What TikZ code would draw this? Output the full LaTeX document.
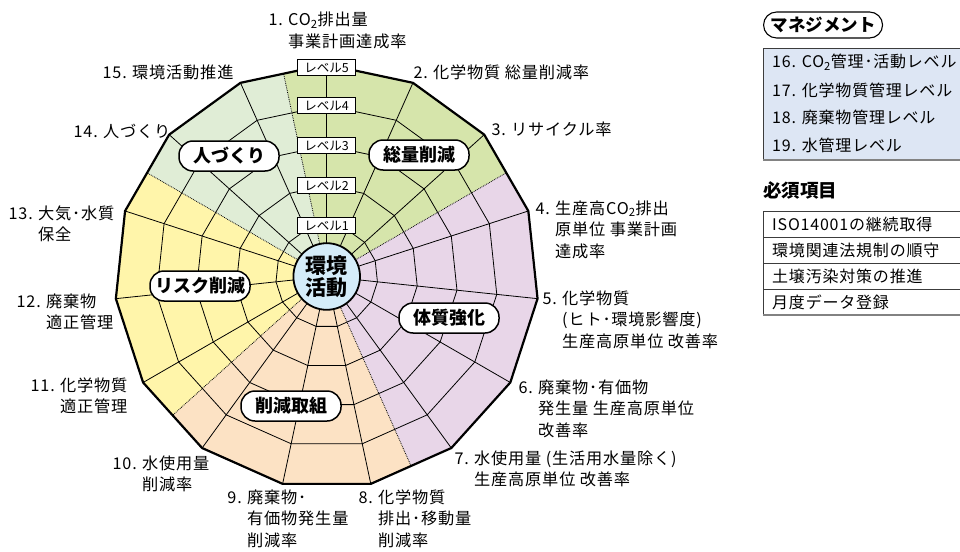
\documentclass[tikz,border=0pt]{standalone}
\usepackage{fontspec}
\setmainfont{Noto Sans CJK JP}
\newfontfamily\lblfont[LetterSpace=5]{Noto Sans CJK JP}
\definecolor{cgreen}{RGB}{214,229,171}
\definecolor{clgreen}{RGB}{224,237,214}
\definecolor{cyellow}{RGB}{255,245,170}
\definecolor{cpink}{RGB}{232,214,232}
\definecolor{corange}{RGB}{252,226,196}
\definecolor{cblue}{RGB}{212,236,249}
\definecolor{cmgmt}{RGB}{221,230,244}
\definecolor{cedge}{RGB}{60,60,60}
\definecolor{cshadow}{RGB}{130,130,130}
\newcommand\itemlabel[5]{%
  \node[lbl,anchor=base east] (#1n) at (#2-5,-#3) {#4};
  \node[lbl,anchor=base west] (#1t) at (#2,-#3) {\begin{tabular}[t]{@{}l@{}}#5\end{tabular}};}
\begin{document}
\begin{tikzpicture}[x=1pt,y=1pt,
  gridline/.style={line width=0.8pt, black},
  bound/.style={line width=0.8pt, densely dotted},
  lvl/.style={draw, line width=0.6pt, fill=white, minimum width=58pt, minimum height=16pt, inner sep=0pt, font=\fontsize{12.5}{14}\selectfont},
  pill/.style={draw, line width=1.5pt, fill=white, rounded corners=14pt, minimum width=100pt, minimum height=30pt, inner sep=0pt, font=\fontsize{18}{20}\bfseries},
  lbl/.style={inner sep=0pt, font=\lblfont\fontsize{16.2}{21.5}\selectfont},
  rt/.style={inner sep=0pt, anchor=west, font=\lblfont\fontsize{16}{18}\selectfont}]
\useasboundingbox (0,0) rectangle (960,-551);
\fill[white] (0,0) rectangle (960,-551);
\coordinate (C) at (326.7,-276.5);
\def\R{212}
\def\Rm{207.36}
\begin{scope}[shift={(C)}]
  % sector fills
  \fill[cgreen] (0,0) -- (102:\Rm) -- (90:\R) -- (66:\R) -- (42:\R) -- (30:\Rm) -- cycle;
  \fill[cpink] (0,0) -- (30:\Rm) -- (18:\R) -- (-6:\R) -- (-30:\R) -- (-54:\R) -- (-66:\Rm) -- cycle;
  \fill[corange] (0,0) -- (-66:\Rm) -- (-78:\R) -- (-102:\R) -- (-126:\R) -- (-138:\Rm) -- cycle;
  \fill[cyellow] (0,0) -- (-138:\Rm) -- (-150:\R) -- (-174:\R) -- (-198:\R) -- (-210:\Rm) -- cycle;
  \fill[clgreen] (0,0) -- (150:\Rm) -- (138:\R) -- (114:\R) -- (102:\Rm) -- cycle;
  % rings
  \foreach \r in {51,91,131,171} {
    \draw[gridline] (90:\r) \foreach \a in {66,42,...,-246} { -- (\a:\r) } -- cycle;
  }
  % spokes
  \foreach \a in {90,66,...,-246} { \draw[gridline] (0,0) -- (\a:\R); }
  % sector boundaries
  \foreach \a in {102,30,-66,-138,150} { \draw[bound] (\a:33) -- (\a:\Rm); }
  % outer polygon
  \draw[line width=2.2pt, line join=miter] (90:\R) \foreach \a in {66,42,...,-246} { -- (\a:\R) } -- cycle;
  % level labels
  \node[lvl] (lv1) at (0,51) {レベル1};
  \node[lvl] (lv2) at (0,91) {レベル2};
  \node[lvl] (lv3) at (0,131) {レベル3};
  \node[lvl] (lv4) at (0,171) {レベル4};
  \node[lvl] (lv5) at (0,209) {レベル5};
\end{scope}
% centre
\node[circle, draw, line width=1.8pt, fill=cblue, minimum size=66.6pt, inner sep=0pt, align=center, font=\fontsize{21}{22.5}\bfseries] (core) at (C) {環境\\活動};
% category pills
\node[pill] (p1) at (419,-155) {総量削減};
\node[pill] (p2) at (229,-156) {人づくり};
\node[pill] (p3) at (200,-286) {リスク削減};
\node[pill] (p4) at (449,-318) {体質強化};
\node[pill] (p5) at (291,-406) {削減取組};
% item labels
\itemlabel{l1}{288}{26}{1.}{CO\textsubscript{2}排出量\\事業計画達成率}
\itemlabel{l2}{433}{78}{2.}{化学物質 総量削減率}
\itemlabel{l3}{511}{135}{3.}{リサイクル率}
\itemlabel{l4}{555}{214}{4.}{生産高CO\textsubscript{2}排出\\原単位 事業計画\\達成率}
\itemlabel{l5}{562}{304}{5.}{化学物質\\(ヒト･環境影響度)\\生産高原単位 改善率}
\itemlabel{l6}{538}{393}{6.}{廃棄物･有価物\\発生量 生産高原単位\\改善率}
\itemlabel{l7}{474}{464}{7.}{水使用量 (生活用水量除く)\\生産高原単位 改善率}
\itemlabel{l8}{378}{503}{8.}{化学物質\\排出･移動量\\削減率}
\itemlabel{l9}{247}{503}{9.}{廃棄物･\\有価物発生量\\削減率}
\itemlabel{l10}{142}{469}{10.}{水使用量\\削減率}
\itemlabel{l11}{60}{391}{11.}{化学物質\\適正管理}
\itemlabel{l12}{46}{307}{12.}{廃棄物\\適正管理}
\itemlabel{l13}{38}{219}{13.}{大気･水質\\保全}
\itemlabel{l14}{103}{137}{14.}{人づくり}
\itemlabel{l15}{132}{78}{15.}{環境活動推進}
% right panel: management
\node[draw, line width=1.1pt, rounded corners=13pt, minimum height=26pt, inner xsep=7pt, inner ysep=0pt, anchor=west, font=\fontsize{17.5}{20}\bfseries] (mgmt) at (763,-25) {マネジメント};
\draw[fill=cmgmt, draw=cedge, line width=0.8pt] (763,-48) rectangle (966,-160);
\draw[cshadow, line width=1.8pt] (763,-160) -- (966,-160);
\node[rt] (m16) at (772,-62.5) {16. CO\textsubscript{2}管理･活動レベル};
\node[rt] (m17) at (772,-90.5) {17. 化学物質管理レベル};
\node[rt] (m18) at (772,-117.5) {18. 廃棄物管理レベル};
\node[rt] (m19) at (772,-145.5) {19. 水管理レベル};
% right panel: required items
\node[inner sep=0pt, anchor=west, font=\fontsize{18.5}{20}\bfseries] (hissu) at (763,-190.5) {必須項目};
\draw[draw=cedge, line width=0.8pt] (763,-211) rectangle (966,-315);
\draw[draw=cedge, line width=0.8pt] (763,-237) -- (966,-237) (763,-263) -- (966,-263) (763,-289) -- (966,-289);
\draw[cshadow, line width=1.8pt] (763,-315) -- (966,-315);
\node[rt] (r1) at (772,-224) {ISO14001の継続取得};
\node[rt] (r2) at (772,-250) {環境関連法規制の順守};
\node[rt] (r3) at (772,-276) {土壌汚染対策の推進};
\node[rt] (r4) at (772,-302) {月度データ登録};
\end{tikzpicture}
\end{document}
